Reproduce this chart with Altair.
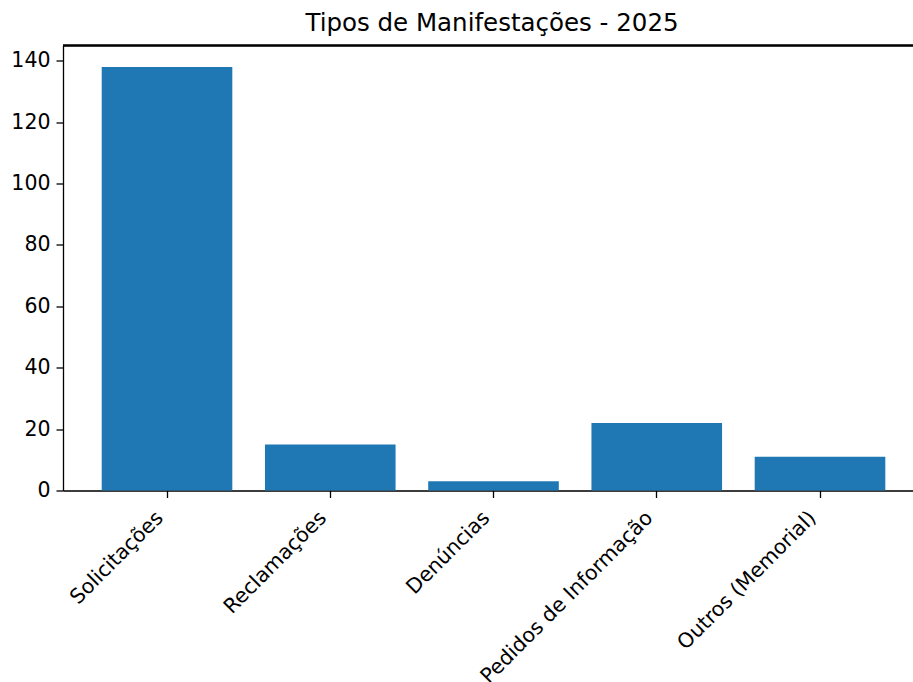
import altair as alt
import pandas as pd

categorias = ["Solicitações", "Reclamações", "Denúncias", "Pedidos de Informação", "Outros (Memorial)"]
valores = [138, 15, 3, 22, 11]
y_ticks = [0, 20, 40, 60, 80, 100, 120, 140]

df = pd.DataFrame({"categoria": categorias, "valor": valores})

W, H = 850, 445
FONT = "DejaVu Sans"
FS = 20.5

bars = alt.Chart(df).mark_bar(color="#1f77b4").encode(
    x=alt.X("categoria:N", sort=categorias, title=None,
            scale=alt.Scale(paddingInner=0.2, paddingOuter=0.2034, align=0.583),
            axis=alt.Axis(labelAngle=-45, labelAlign="right", labelBaseline="bottom",
                          labelFontSize=FS, labelFont=FONT, labelColor="#000",
                          tickSize=7, tickColor="#000", tickWidth=1.3,
                          domainColor="#000", domainWidth=1.3, labelPadding=24,
                          labelOverlap=False, labelLimit=400, labelFlush=False)),
    y=alt.Y("valor:Q", title=None,
            scale=alt.Scale(domain=[0, 145], nice=False, zero=True),
            axis=alt.Axis(values=y_ticks, grid=False, labelFontSize=FS, labelFont=FONT,
                          labelColor="#000", tickSize=7, tickColor="#000", tickWidth=1.3,
                          domainColor="#000", domainWidth=1.3, labelPadding=6)),
)

top_spine = alt.Chart(df).mark_rule(color="#000", strokeWidth=1.3).encode(
    x=alt.value(0), x2=alt.value(W), y=alt.value(0)
)

chart = alt.layer(bars, top_spine).properties(
    width=W, height=H,
    title=alt.TitleParams("Tipos de Manifestações - 2025", fontSize=24.5, font=FONT,
                          fontWeight="normal", color="#000", anchor="middle",
                          offset=8, dx=4),
    autosize=alt.AutoSizeParams(type="none"),
    padding={"left": 63, "top": 45.5, "right": 0, "bottom": 191},
).configure_view(stroke=None).configure(background="white")

chart.save("out.html", embed_options={"renderer": "svg", "actions": False})
